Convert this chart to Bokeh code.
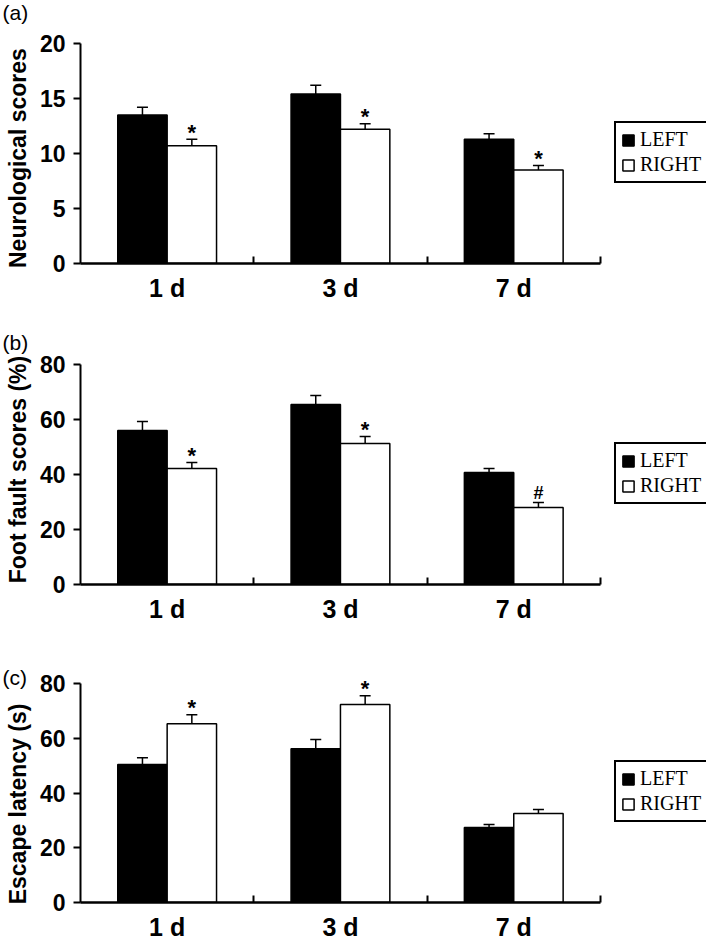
from bokeh.plotting import figure
from bokeh.layouts import column
from bokeh.models import (ColumnDataSource, LinearAxis, FixedTicker, Range1d, Whisker,
                          TeeHead, Legend, LegendItem, Label)
from bokeh.core.properties import value
from bokeh.embed import file_html
from bokeh.resources import INLINE

# ---------------- data ----------------
days = ["1 d", "3 d", "7 d"]
groups = ["LEFT", "RIGHT"]

neuro_left = [13.5, 15.4, 11.3]
neuro_left_err = [0.7, 0.8, 0.5]
neuro_right = [10.7, 12.2, 8.5]
neuro_right_err = [0.6, 0.5, 0.4]
neuro_marks = ["*", "*", "*"]
neuro_ticks = [0, 5, 10, 15, 20]

foot_left = [56.0, 65.5, 40.7]
foot_left_err = [3.3, 3.2, 1.5]
foot_right = [42.2, 51.3, 28.0]
foot_right_err = [2.2, 2.5, 1.8]
foot_marks = ["*", "*", "#"]
foot_ticks = [0, 20, 40, 60, 80]

escape_left = [50.4, 56.2, 27.4]
escape_left_err = [2.5, 3.3, 1.1]
escape_right = [65.3, 72.3, 32.5]
escape_right_err = [3.3, 3.2, 1.5]
escape_marks = ["*", "*", ""]
escape_ticks = [0, 20, 40, 60, 80]

# ---------------- layout constants ----------------
LEFT_BORDER = 80
FRAME_W = 626
UNIT_PX = 173.3
BAR_W = 0.285
PAD_PX = 10          # headroom above the top tick so marks are not clipped
SANS = "Liberation Sans"
NBSP = "\u00a0"


def make_panel(tag, ylabel, yticks, left, left_err, right, right_err, marks,
               top_border, data_h, bottom_border, tag_y, label_shift):
    ymax = yticks[-1]
    p = figure(frame_width=FRAME_W, frame_height=data_h + PAD_PX,
               min_border_left=LEFT_BORDER, min_border_right=0,
               min_border_top=top_border - PAD_PX, min_border_bottom=bottom_border,
               x_axis_type=None, y_axis_type=None,
               x_range=Range1d(0.5, 0.5 + FRAME_W / UNIT_PX),
               y_range=Range1d(0, ymax * (1 + PAD_PX / data_h)),
               toolbar_location=None, output_backend="svg")
    p.outline_line_color = None
    p.grid.visible = False
    p.background_fill_color = "white"
    p.border_fill_color = "white"

    # panel tag, placed in the top border panel (not clipped to the frame)
    lab = Label(x=2, y=tag_y, x_units="canvas", y_units="canvas",
                text=tag, text_font=SANS, text_font_size="21px",
                text_color="black", text_baseline="top", text_align="left")
    p.add_layout(lab, "above")

    idx = list(range(1, len(days) + 1))
    xl = [i - BAR_W / 2 for i in idx]
    xr = [i + BAR_W / 2 for i in idx]

    src_l = ColumnDataSource(dict(x=xl, top=left,
                                  upper=[v + e for v, e in zip(left, left_err)]))
    src_r = ColumnDataSource(dict(x=xr, top=right,
                                  upper=[v + e for v, e in zip(right, right_err)]))

    r_l = p.vbar(x="x", top="top", bottom=0, width=BAR_W, source=src_l,
                 fill_color="black", line_color="black", line_width=1.5)
    r_r = p.vbar(x="x", top="top", bottom=0, width=BAR_W, source=src_r,
                 fill_color="white", line_color="black", line_width=1.5)

    for src in (src_l, src_r):
        w = Whisker(base="x", lower="top", upper="upper", source=src,
                    lower_head=None,
                    upper_head=TeeHead(size=11, line_width=1.5, line_color="black"),
                    line_width=1.5, line_color="black")
        p.add_layout(w)

    # significance marks above the RIGHT bars
    star_x, star_y, star_t = [], [], []
    hash_x, hash_y, hash_t = [], [], []
    for x, u, m in zip(xr, src_r.data["upper"], marks):
        if m == "*":
            star_x.append(x); star_y.append(u); star_t.append(m)
        elif m:
            hash_x.append(x); hash_y.append(u); hash_t.append(m)
    if star_t:
        p.text(x=star_x, y=star_y, text=star_t, text_align="center",
               text_baseline="alphabetic", text_font=value(SANS),
               text_font_style="bold", text_font_size="22px", text_color="black",
               y_offset=-7)
    if hash_t:
        p.text(x=hash_x, y=hash_y, text=hash_t, text_align="center",
               text_baseline="alphabetic", text_font=value(SANS),
               text_font_style="bold", text_font_size="18px", text_color="black",
               y_offset=-10)

    # y axis
    ya = LinearAxis(ticker=FixedTicker(ticks=yticks))
    ya.bounds = (0, ymax)
    ya.axis_line_width = 2
    ya.major_tick_line_width = 2
    ya.major_tick_out = 7
    ya.major_tick_in = 0
    ya.minor_tick_line_color = None
    ya.major_label_text_font = SANS
    ya.major_label_text_font_style = "bold"
    ya.major_label_text_font_size = "23px"
    ya.major_label_text_color = "black"
    ya.major_label_standoff = 8
    # trailing no-break spaces nudge the centred, rotated title down a little
    ya.axis_label = ylabel + NBSP * label_shift
    ya.axis_label_text_font = SANS
    ya.axis_label_text_font_style = "bold"
    ya.axis_label_text_font_size = "23px"
    ya.axis_label_text_color = "black"
    ya.axis_label_standoff = 6
    p.add_layout(ya, "left")

    # x axis: labels at category centres, inward ticks at category boundaries
    xa = LinearAxis(ticker=FixedTicker(ticks=idx,
                                       minor_ticks=[i + 0.5 for i in idx]))
    xa.bounds = (0.5, len(days) + 0.5)
    xa.major_label_overrides = {i: d for i, d in zip(idx, days)}
    xa.axis_line_width = 2.5
    xa.major_tick_line_color = None
    xa.major_tick_in = 0
    xa.major_tick_out = 0
    xa.minor_tick_line_width = 2
    xa.minor_tick_in = 7
    xa.minor_tick_out = 0
    xa.major_label_text_font = SANS
    xa.major_label_text_font_style = "bold"
    xa.major_label_text_font_size = "25px"
    xa.major_label_text_color = "black"
    xa.major_label_standoff = 10
    p.add_layout(xa, "below")

    legend = Legend(items=[LegendItem(label=groups[0], renderers=[r_l]),
                           LegendItem(label=groups[1], renderers=[r_r])],
                    location=(534, 80))
    legend.border_line_color = "black"
    legend.border_line_alpha = 1
    legend.border_line_width = 2
    legend.background_fill_color = "white"
    legend.background_fill_alpha = 1
    legend.label_text_font = "Liberation Serif"
    legend.label_text_font_size = "20px"
    legend.label_text_color = "black"
    legend.glyph_width = 14
    legend.glyph_height = 14
    legend.label_height = 22
    legend.label_standoff = 5
    legend.padding = 5
    legend.spacing = 2
    legend.margin = 0
    p.add_layout(legend)
    return p


pa = make_panel("(a)", "Neurological scores", neuro_ticks,
                neuro_left, neuro_left_err, neuro_right, neuro_right_err, neuro_marks,
                top_border=43, data_h=220, bottom_border=57, tag_y=0, label_shift=3)
pb = make_panel("(b)", "Foot fault scores (%)", foot_ticks,
                foot_left, foot_left_err, foot_right, foot_right_err, foot_marks,
                top_border=44, data_h=220, bottom_border=56, tag_y=10, label_shift=0)
pc = make_panel("(c)", "Escape latency (s)", escape_ticks,
                escape_left, escape_left_err, escape_right, escape_right_err, escape_marks,
                top_border=43, data_h=219, bottom_border=39, tag_y=25, label_shift=5)

layout = column(pa, pb, pc, spacing=0)
open("out.html", "w").write(file_html(layout, INLINE))
